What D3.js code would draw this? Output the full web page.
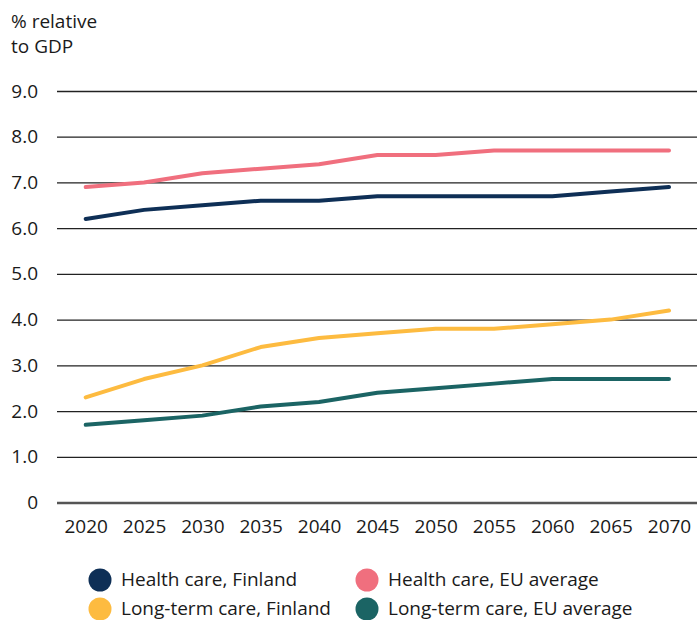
<!DOCTYPE html>
<html>
<head>
<meta charset="utf-8">
<script src="https://cdn.jsdelivr.net/npm/d3@7"></script>
<style>
  html, body { margin: 0; padding: 0; background: #fff; }
  svg { display: block; font-family: "Open Sans", "Noto Sans", sans-serif; }
</style>
</head>
<body>
<svg id="chart" width="697" height="620"></svg>
<script>
// Health and long-term care expenditure projections, % of GDP
const years = [2020, 2025, 2030, 2035, 2040, 2045, 2050, 2055, 2060, 2065, 2070];
const healthFinland = [6.2, 6.4, 6.5, 6.6, 6.6, 6.7, 6.7, 6.7, 6.7, 6.8, 6.9];
const healthEU = [6.9, 7.0, 7.2, 7.3, 7.4, 7.6, 7.6, 7.7, 7.7, 7.7, 7.7];
const longTermFinland = [2.3, 2.7, 3.0, 3.4, 3.6, 3.7, 3.8, 3.8, 3.9, 4.0, 4.2];
const longTermEU = [1.7, 1.8, 1.9, 2.1, 2.2, 2.4, 2.5, 2.6, 2.7, 2.7, 2.7];
const yTicks = [0, 1, 2, 3, 4, 5, 6, 7, 8, 9];

const series = [
  { name: "Health care, Finland", values: healthFinland, color: "#0e2f56" },
  { name: "Health care, EU average", values: healthEU, color: "#f06f7e" },
  { name: "Long-term care, Finland", values: longTermFinland, color: "#fdbb40" },
  { name: "Long-term care, EU average", values: longTermEU, color: "#1b6464" }
];

const FS = 19;
const svg = d3.select("#chart");
const plotLeft = 57, plotRight = 697, plotTop = 91, plotBottom = 502.5;

const x = d3.scalePoint().domain(years).range([85.7, 669]);
const y = d3.scaleLinear().domain([0, 9]).range([plotBottom, plotTop]);

// axis title
const title = svg.append("text").attr("font-size", FS).attr("fill", "#1a1a1a");
title.append("tspan").attr("x", 11).attr("y", 28).text("% relative");
title.append("tspan").attr("x", 11).attr("y", 53).text("to GDP");

// gridlines + y labels
const yAxis = d3.axisLeft(y)
  .tickValues(yTicks)
  .tickSize(-(plotRight - plotLeft))
  .tickFormat(d => d === 0 ? "0" : d3.format(".1f")(d));
const gy = svg.append("g").attr("transform", `translate(${plotLeft},0)`).call(yAxis);
gy.select(".domain").remove();
gy.selectAll(".tick line")
  .attr("stroke", d => d === 0 ? "#555" : "#222")
  .attr("stroke-width", d => d === 0 ? 2.5 : 1.3);
gy.selectAll(".tick text")
  .attr("x", -19)
  .attr("font-size", FS)
  .attr("font-family", "'Open Sans', sans-serif")
  .attr("fill", "#1a1a1a");

// x labels
const xAxis = d3.axisBottom(x).tickSize(0).tickPadding(0);
const gx = svg.append("g").attr("transform", `translate(0,${plotBottom})`).call(xAxis);
gx.select(".domain").remove();
gx.selectAll(".tick text")
  .attr("y", 17)
  .attr("font-size", FS)
  .attr("font-family", "'Open Sans', sans-serif")
  .attr("fill", "#1a1a1a");

// lines
const line = d3.line().x((d, i) => x(years[i])).y(d => y(d));
svg.append("g").selectAll("path")
  .data(series)
  .join("path")
  .attr("d", s => line(s.values))
  .attr("fill", "none")
  .attr("stroke", s => s.color)
  .attr("stroke-width", 4)
  .attr("stroke-linecap", "round")
  .attr("stroke-linejoin", "round");

// legend
const legendPos = [[100, 580], [367, 580], [100, 609], [367, 609]];
const lg = svg.append("g").selectAll("g")
  .data(series)
  .join("g")
  .attr("transform", (s, i) => `translate(${legendPos[i][0]},${legendPos[i][1]})`);
lg.append("circle").attr("r", 11.5).attr("fill", s => s.color);
lg.append("text")
  .attr("x", 21)
  .attr("y", 6)
  .attr("font-size", FS)
  .attr("fill", "#1a1a1a")
  .text(s => s.name);
</script>
</body>
</html>
